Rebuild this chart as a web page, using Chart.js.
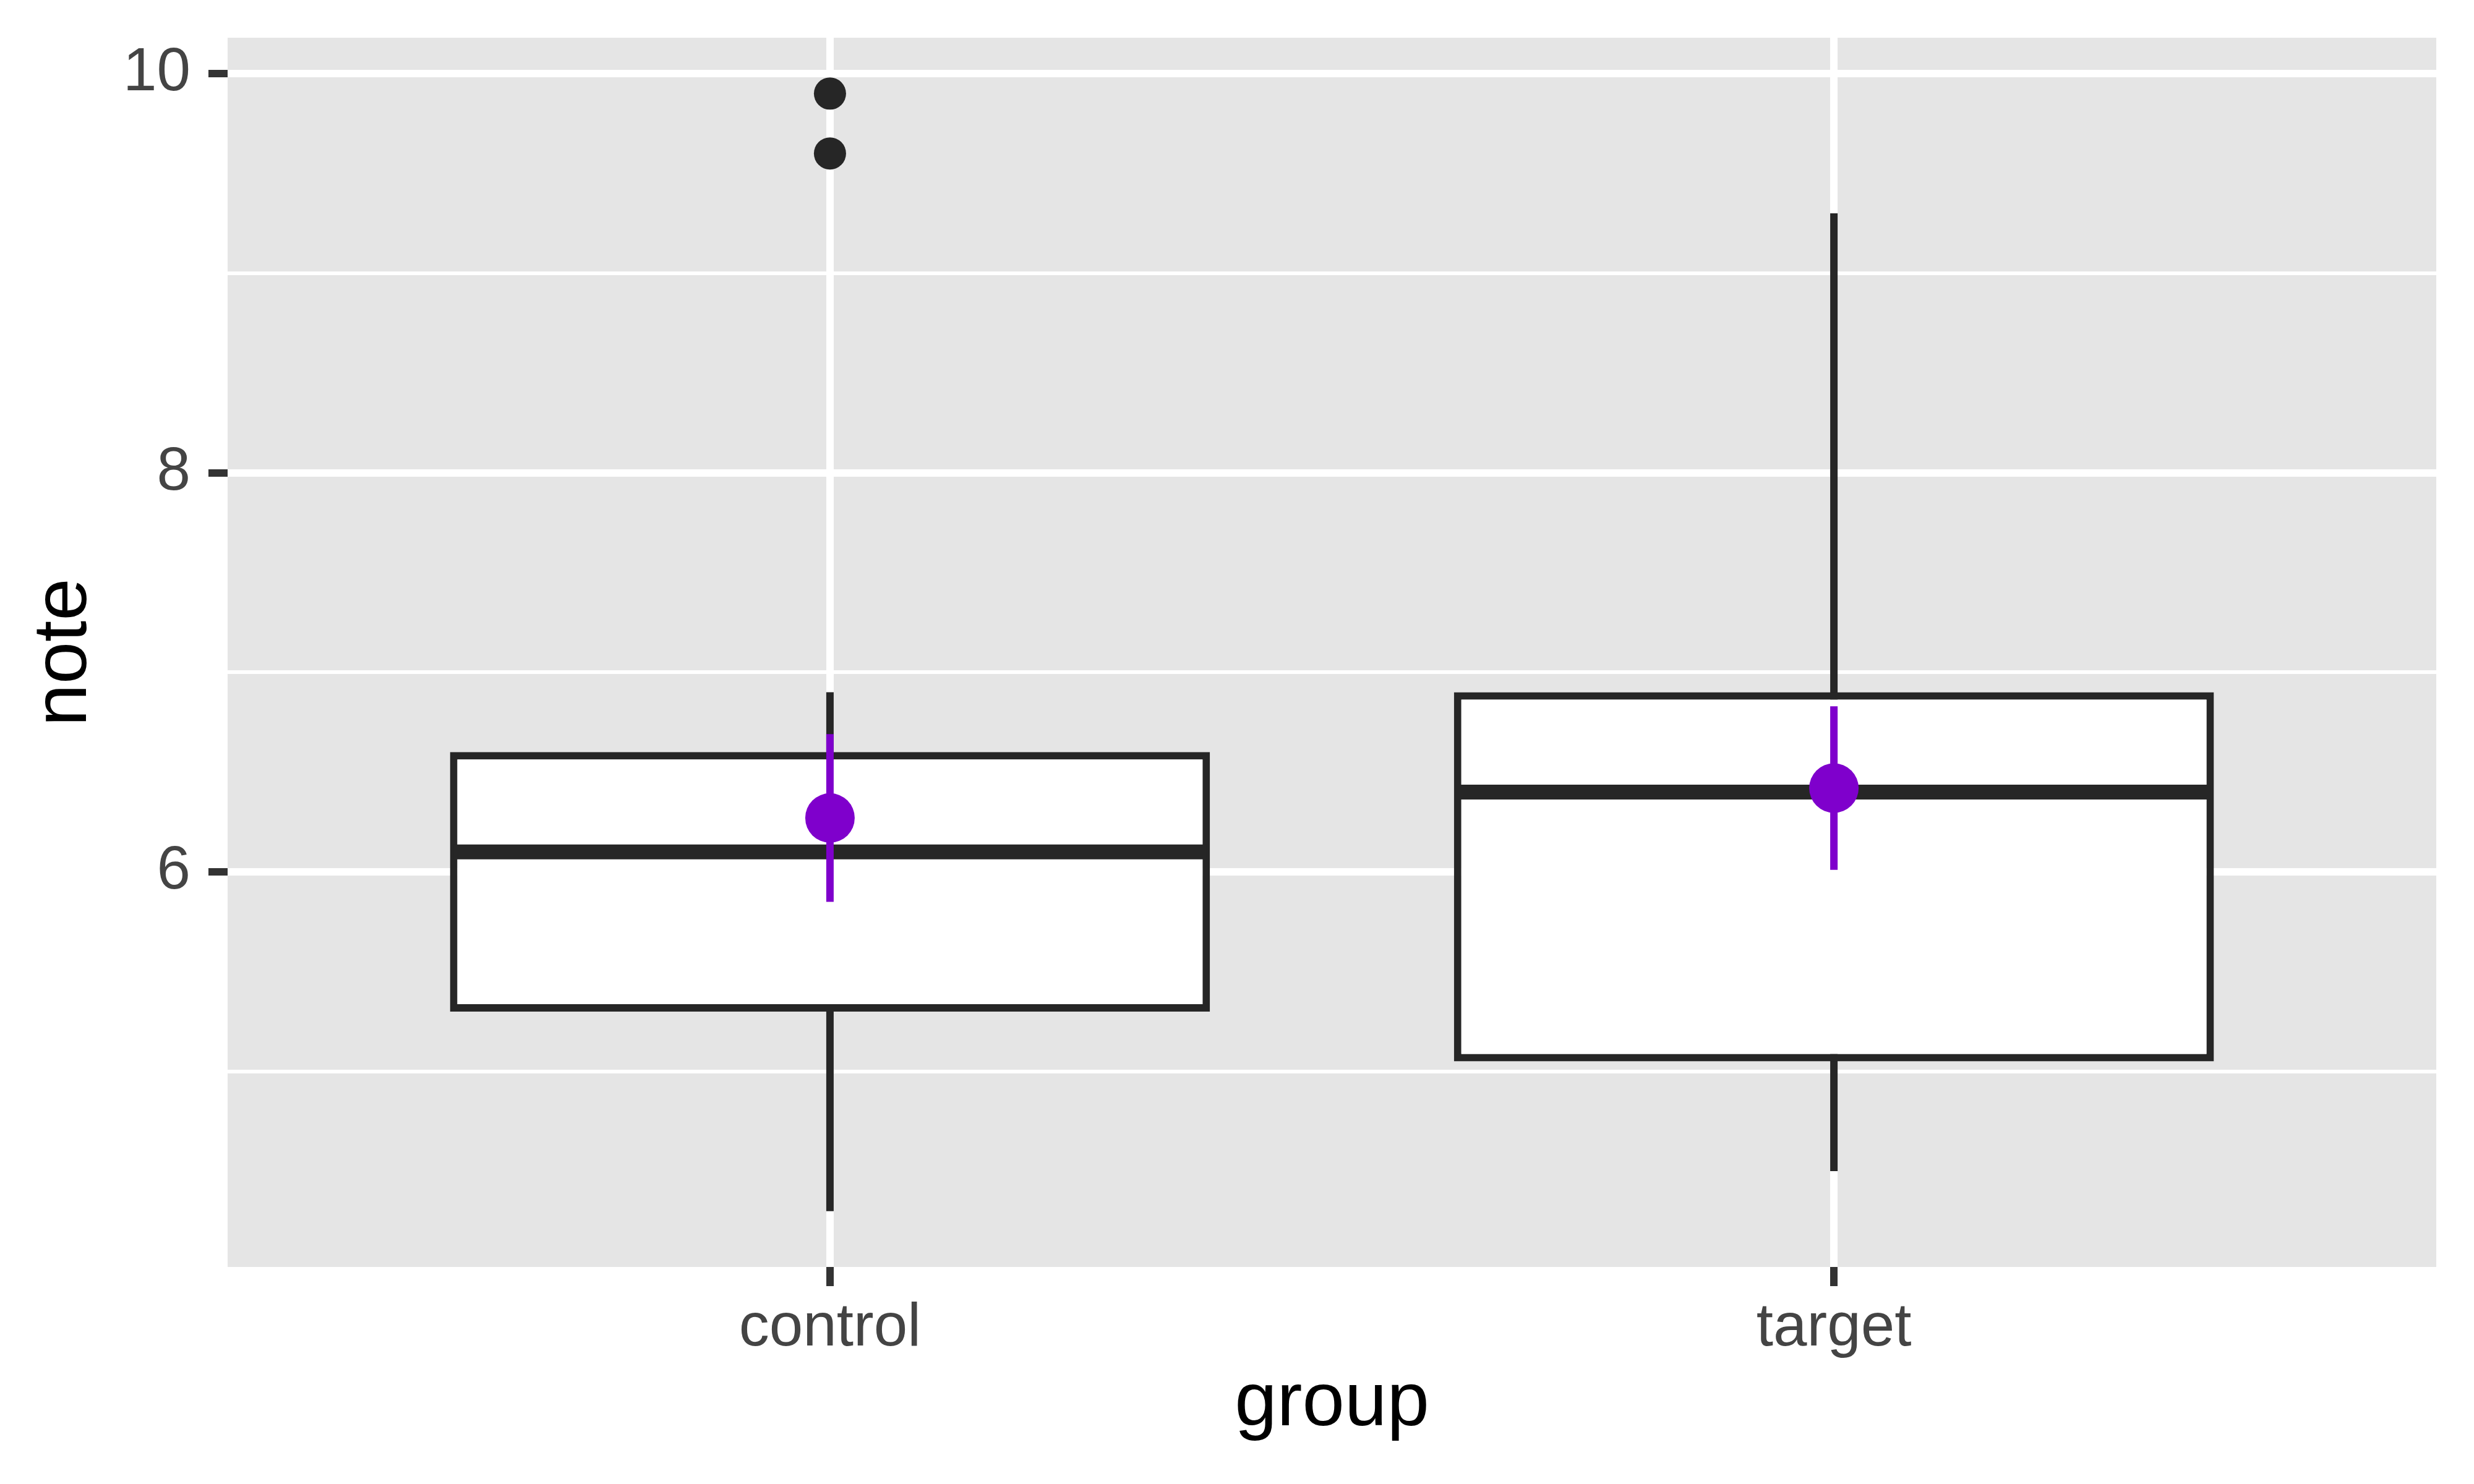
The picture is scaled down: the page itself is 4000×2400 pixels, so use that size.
<!DOCTYPE html>
<html>
<head>
<meta charset="utf-8">
<title>note by group</title>
<script src="https://cdn.jsdelivr.net/npm/chart.js@4.4.1/dist/chart.umd.min.js"></script>
<style>
  html, body { margin: 0; padding: 0; background: #ffffff; }
  #chart { display: block; }
</style>
</head>
<body>
<canvas id="chart" width="4000" height="2400" style="width:4000px;height:2400px"></canvas>
<script>
// groups on the x axis
const groups = ['control', 'target'];
const groupPos = [1, 2];

// box plot statistics
const q1 = [5.3, 5.05];
const median = [6.1, 6.4];
const q3 = [6.6, 6.9];
const whiskerLow = [4.3, 4.5];
const whiskerHigh = [6.9, 9.3];

// outliers (group position, value)
const outlierPos = [1, 1];
const outlierValues = [9.9, 9.6];

// mean and its interval, per group
const means = [6.27, 6.42];
const meanLow = [5.85, 6.01];
const meanHigh = [6.69, 6.83];

// y ticks
const yMajorTicks = [6, 8, 10];
const yTickLabels = ['6', '8', '10'];
const yMinorTicks = [5, 7, 9];

const boxHalfWidth = 0.375;
const dark = '#262626';
const purple = '#7F00CC';

const datasets = [];

// boxes (floating bars)
datasets.push({
    type: 'bar',
    label: 'box',
    data: groupPos.map((x, i) => ({ x: x, y: [q1[i], q3[i]] })),
    backgroundColor: '#ffffff',
    borderColor: dark,
    borderWidth: 12,
    borderSkipped: false,
    categoryPercentage: 1,
    barPercentage: 0.757,
    order: 4
});

groupPos.forEach((x, i) => {
    // whisker, runs behind the box
    datasets.push({
        type: 'line',
        label: 'whisker ' + groups[i],
        data: [{ x: x, y: whiskerLow[i] }, { x: x, y: whiskerHigh[i] }],
        borderColor: dark,
        borderWidth: 12,
        pointRadius: 0,
        fill: false,
        order: 5
    });
    // median
    datasets.push({
        type: 'line',
        label: 'median ' + groups[i],
        data: [{ x: x - boxHalfWidth, y: median[i] }, { x: x + boxHalfWidth, y: median[i] }],
        borderColor: dark,
        borderWidth: 24,
        pointRadius: 0,
        fill: false,
        order: 3
    });
    // interval around the mean
    datasets.push({
        type: 'line',
        label: 'interval ' + groups[i],
        data: [{ x: x, y: meanLow[i] }, { x: x, y: meanHigh[i] }],
        borderColor: purple,
        borderWidth: 12,
        pointRadius: 0,
        fill: false,
        order: 1
    });
});

datasets.push({
    type: 'scatter',
    label: 'outliers',
    data: outlierPos.map((x, i) => ({ x: x, y: outlierValues[i] })),
    backgroundColor: dark,
    borderWidth: 0,
    pointRadius: 26,
    order: 2
});

datasets.push({
    type: 'scatter',
    label: 'mean',
    data: groupPos.map((x, i) => ({ x: x, y: means[i] })),
    backgroundColor: purple,
    borderWidth: 0,
    pointRadius: 40,
    order: 0
});

// grey panel behind the plot
const panelBackground = {
    id: 'panelBackground',
    beforeDraw(chart) {
        const { ctx, chartArea } = chart;
        ctx.save();
        ctx.fillStyle = '#E5E5E5';
        ctx.fillRect(chartArea.left, chartArea.top, chartArea.right - chartArea.left, chartArea.bottom - chartArea.top);
        ctx.restore();
    }
};

const isMajor = v => yMajorTicks.includes(v);

const ctx = document.getElementById('chart').getContext('2d');
const chart = new Chart(ctx, {
    type: 'bar',
    data: { datasets: datasets },
    plugins: [panelBackground],
    options: {
        responsive: false,
        devicePixelRatio: 1,
        animation: false,
        events: [],
        layout: { padding: { left: 0, right: 61, top: 61, bottom: 0 } },
        plugins: {
            legend: { display: false },
            tooltip: { enabled: false }
        },
        scales: {
            x: {
                type: 'linear',
                min: 0.4,
                max: 2.6,
                offset: false,
                afterBuildTicks: scale => {
                    scale.ticks = groupPos.map(v => ({ value: v }));
                },
                afterFit: scale => {
                    scale.height = 351;
                    scale.paddingLeft = 0;
                    scale.paddingRight = 0;
                },
                border: { display: false },
                grid: {
                    offset: false,
                    color: '#ffffff',
                    lineWidth: 12,
                    tickColor: '#333333',
                    tickWidth: 12,
                    tickLength: 31
                },
                ticks: {
                    padding: 10,
                    color: '#444444',
                    font: { family: 'Liberation Sans, Arial, sans-serif', size: 98, lineHeight: 1.2 },
                    callback: value => groups[groupPos.indexOf(value)] || ''
                },
                title: {
                    display: true,
                    text: 'group',
                    color: '#000000',
                    font: { family: 'Liberation Sans, Arial, sans-serif', size: 123, lineHeight: 1.2 },
                    padding: { top: 0, bottom: 55 }
                }
            },
            y: {
                type: 'linear',
                min: 4.02,
                max: 10.18,
                afterBuildTicks: scale => {
                    scale.ticks = yMinorTicks.concat(yMajorTicks).sort((a, b) => a - b).map(v => ({ value: v }));
                },
                afterFit: scale => {
                    scale.width = 368;
                    scale.paddingTop = 0;
                    scale.paddingBottom = 0;
                },
                border: { display: false },
                grid: {
                    color: '#ffffff',
                    lineWidth: c => (c.tick && isMajor(c.tick.value)) ? 12 : 6,
                    tickColor: c => (c.tick && isMajor(c.tick.value)) ? '#333333' : 'rgba(0,0,0,0)',
                    tickWidth: 12,
                    tickLength: 31
                },
                ticks: {
                    padding: 29,
                    color: '#444444',
                    font: { family: 'Liberation Sans, Arial, sans-serif', size: 98, lineHeight: 1.2 },
                    callback: value => {
                        const k = yMajorTicks.indexOf(value);
                        return k >= 0 ? yTickLabels[k] : '';
                    }
                },
                title: {
                    display: true,
                    text: 'note',
                    color: '#000000',
                    font: { family: 'Liberation Sans, Arial, sans-serif', size: 123, lineHeight: 1.2 },
                    padding: { top: 31, bottom: 0 }
                }
            }
        }
    }
});
</script>
</body>
</html>
